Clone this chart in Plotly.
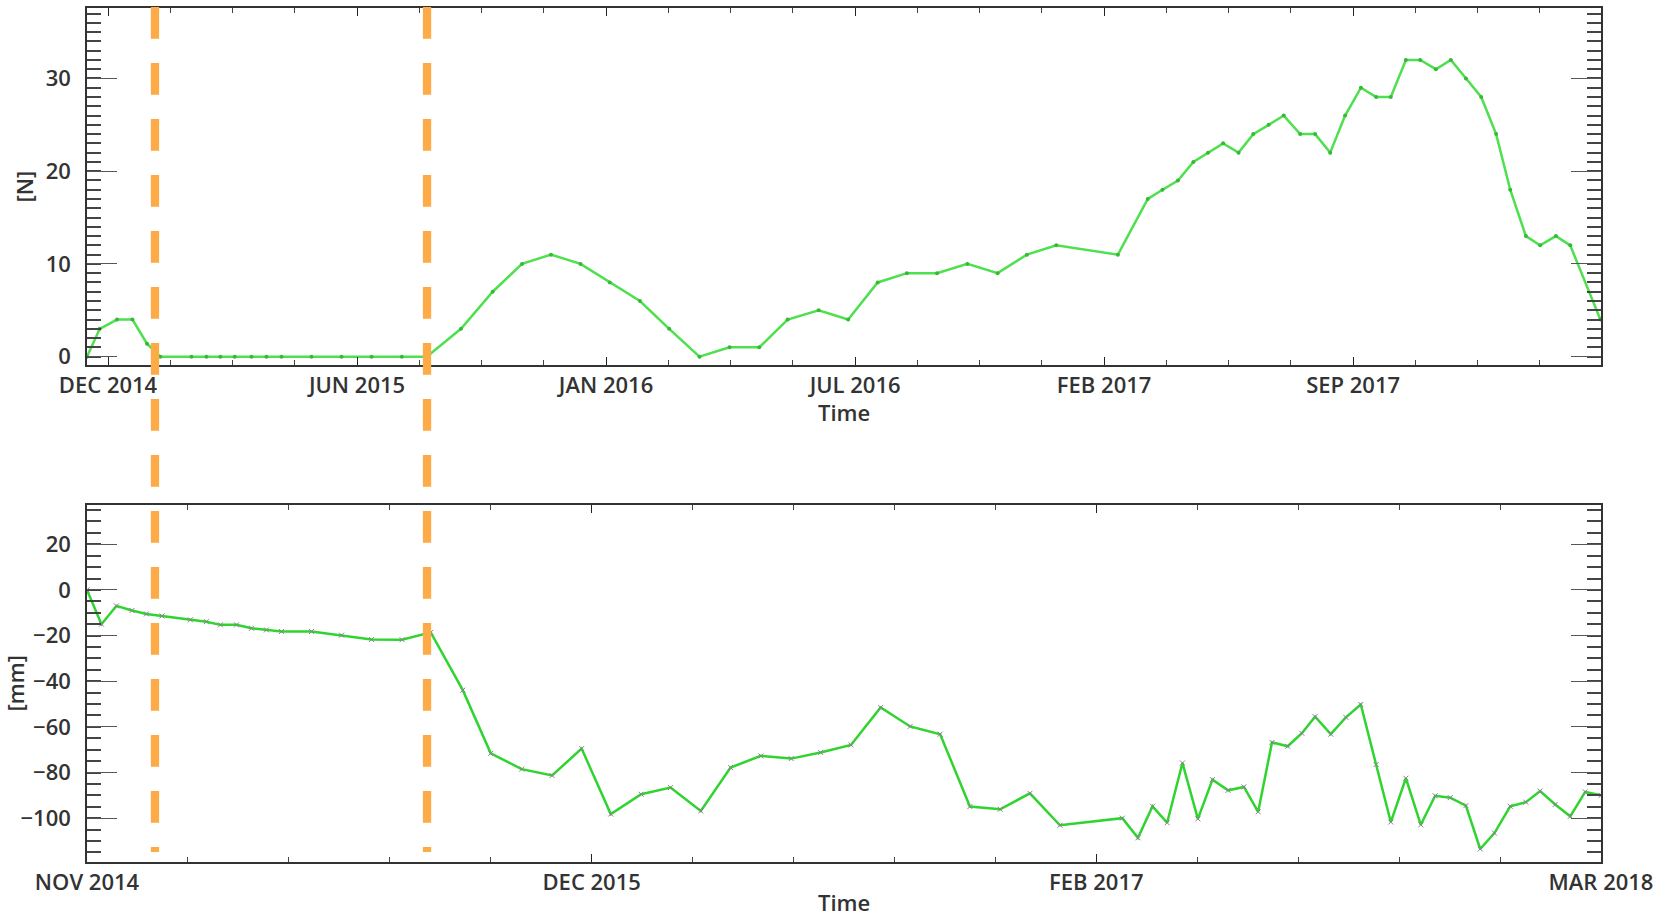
import pandas as pd
import plotly.graph_objects as go

START = pd.Timestamp("2014-11-10")
SPAN_DAYS = 1236

# upper panel: count [N], x as days since START
n_days = [0, 10.4, 24.5, 37.1, 49.0, 59.9, 85.3, 97.5, 108.9, 120.6, 134.3, 146.5, 158.8, 183.3,
          207.8, 232.3, 257.0, 277.4, 305.3, 331.2, 355.1, 378.8, 402.9, 426.8, 451.4, 475.3,
          500.0, 524.6, 548.8, 572.0, 597.3, 621.4, 645.5, 669.3, 694.0, 718.7, 743.4, 767.3,
          791.3, 841.6, 866.0, 878.0, 890.6, 903.2, 915.2, 927.5, 940.1, 952.1, 964.7, 977.0,
          990.4, 1002.6, 1014.9, 1027.1, 1040.0, 1052.4, 1064.4, 1076.7, 1088.4, 1101.2, 1113.4,
          1125.7, 1138.2, 1150.4, 1161.9, 1174.7, 1186.3, 1199.2, 1210.9, 1235.5]
n_vals = [0, 3, 4, 4, 1.4, 0, 0, 0, 0, 0, 0, 0, 0, 0, 0, 0, 0, 0, 3, 7,
          10, 11, 10, 8, 6, 3, 0, 1, 1, 4, 5, 4, 8, 9, 9, 10, 9, 11, 12, 11,
          17, 18, 19, 21, 22, 23, 22, 24, 25, 26, 24, 24, 22, 26, 29, 28, 28, 32, 32, 31,
          32, 30, 28, 24, 18, 13, 12, 13, 12, 4]

# lower panel: displacement [mm]
d_days = [0, 11.8, 24.0, 36.7, 48.5, 61.2, 84.4, 97.5, 108.9, 122.0, 134.3, 146.5, 158.8, 183.3,
          207.8, 232.3, 257.2, 280.6, 306.8, 329.6, 354.9, 379.7, 403.8, 427.6, 452.4, 476.4,
          501.1, 525.4, 550.1, 574.9, 598.9, 623.7, 647.9, 672.0, 696.5, 720.8, 745.5, 769.8,
          794.3, 845.2, 858.0, 869.9, 881.8, 894.3, 906.9, 918.8, 931.6, 944.5, 956.1, 967.4,
          980.2, 991.8, 1002.6, 1015.4, 1027.7, 1039.9, 1052.4, 1064.4, 1076.7, 1088.9, 1100.6,
          1112.9, 1125.7, 1137.4, 1149.0, 1161.9, 1174.7, 1186.3, 1198.6, 1210.9, 1223.1, 1236.0]
d_vals = [0, -15, -7, -9, -10.5, -11.4, -13.1, -13.9, -15.3, -15.3, -16.8, -17.5, -18.2, -18.2,
          -19.8, -21.7, -21.8, -18.6, -43.9, -71.6, -78.5, -81.3, -69.5, -98.2, -89.5, -86.6,
          -96.8, -77.8, -72.7, -73.9, -71.2, -67.9, -51.5, -59.8, -63.2, -94.9, -96.1, -89.1,
          -103.1, -100, -108.6, -94.8, -102, -75.8, -100.3, -83.1, -87.8, -86.3, -97.2, -66.8,
          -68.5, -62.8, -55.5, -63.2, -55.8, -50.2, -76.5, -101.7, -82.5, -102.9, -90.2, -91,
          -94.5, -113.5, -106.5, -94.8, -93, -88.1, -94, -99.2, -88.5, -90]

# vertical event markers (days since START)
event_days = [55.5, 277.6]

top_labels = ["DEC 2014", "JUN 2015", "JAN 2016", "JUL 2016", "FEB 2017", "SEP 2017"]
bot_labels = ["NOV 2014", "DEC 2015", "FEB 2017", "MAR 2018"]


def to_dates(days):
    return [START + pd.Timedelta(days=d) for d in days]


# tick layout
top_off, top_step = 17.15, 203.3
top_major = to_dates([top_off + k * top_step for k in range(len(top_labels))])
top_minor = to_dates([top_off + j * top_step / 4 for j in range(30) if top_off + j * top_step / 4 <= SPAN_DAYS])
bot_step = SPAN_DAYS / 3
bot_major = to_dates([k * bot_step for k in range(len(bot_labels))])
bot_minor = to_dates([j * bot_step / 5 for j in range(16)])
xrange = [START, START + pd.Timedelta(days=SPAN_DAYS)]

FONT = dict(family="Open Sans", size=22, color="#333333", weight=600)

fig = go.Figure()
fig.add_trace(go.Scatter(
    x=to_dates(n_days), y=n_vals, mode="lines+markers",
    line=dict(color="#4ee04e", width=2.5), marker=dict(size=4, color="#37b837"),
    xaxis="x", yaxis="y", showlegend=False,
))
fig.add_trace(go.Scatter(
    x=to_dates(d_days), y=d_vals, mode="lines+markers",
    line=dict(color="#2fd42f", width=2.5),
    marker=dict(size=5, symbol="x-thin", color="#8a8090", line=dict(width=1, color="#8a8090")),
    xaxis="x2", yaxis="y2", showlegend=False,
))

for d in event_days:
    fig.add_shape(
        type="line", xref="x", yref="paper",
        x0=START + pd.Timedelta(days=d), x1=START + pd.Timedelta(days=d),
        y0=1.0012, y1=0.0117,
        line=dict(color="#fcab46", width=8.3, dash="31.7px,24.3px"),
    )

axis_common = dict(
    showline=True, linecolor="#333333", linewidth=1.5, mirror="allticks",
    ticks="inside", showgrid=False, zeroline=False, tickfont=FONT, automargin=False,
)

fig.update_layout(
    width=1674, height=918,
    margin=dict(l=87, r=73, t=8, b=56, autoexpand=False),
    paper_bgcolor="white", plot_bgcolor="white",
    font=FONT,
    xaxis=dict(
        **axis_common, type="date", range=xrange, anchor="y", domain=[0, 1],
        tickmode="array", tickvals=top_major, ticktext=top_labels,
        ticklen=8, tickcolor="#222222", ticklabelstandoff=0,
        minor=dict(tickmode="array", tickvals=top_minor, ticks="inside", ticklen=5, tickcolor="#444444"),
    ),
    yaxis=dict(
        **axis_common, range=[-0.9, 37.6], domain=[0.582, 1], anchor="x",
        tickvals=[0, 10, 20, 30], ticklen=30, tickcolor="#555555", tickwidth=1, ticklabelstandoff=10,
        minor=dict(dtick=1, ticks="inside", ticklen=14, tickcolor="#444444", tickwidth=1.5),
    ),
    xaxis2=dict(
        **axis_common, type="date", range=xrange, anchor="y2", domain=[0, 1],
        tickmode="array", tickvals=bot_major, ticktext=bot_labels,
        ticklen=8, tickcolor="#222222", ticklabelstandoff=0,
        minor=dict(tickmode="array", tickvals=bot_minor, ticks="inside", ticklen=5, tickcolor="#444444"),
    ),
    yaxis2=dict(
        **axis_common, range=[-119.2, 37.2], domain=[0, 0.418], anchor="x2",
        tickvals=[-100, -80, -60, -40, -20, 0, 20], ticklen=30, tickcolor="#555555", tickwidth=1,
        ticklabelstandoff=10,
        minor=dict(dtick=5, ticks="inside", ticklen=14, tickcolor="#444444", tickwidth=1.5),
    ),
)

fig.add_annotation(text="Time", xref="paper", yref="paper", x=0.5, y=0.5275,
                   showarrow=False, font=FONT, yanchor="middle")
fig.add_annotation(text="Time", xref="paper", yref="paper", x=0.5, y=-0.0468,
                   showarrow=False, font=FONT, yanchor="middle")
fig.add_annotation(text="[N]", xref="paper", yref="paper", x=-0.0416, y=0.791,
                   showarrow=False, font=FONT, textangle=-90, xanchor="center", yanchor="middle")
fig.add_annotation(text="[mm]", xref="paper", yref="paper", x=-0.0482, y=0.209,
                   showarrow=False, font=FONT, textangle=-90, xanchor="center", yanchor="middle")

# page body has a default 8px margin; drop it so the figure sits at the window origin
fig.write_html("out.html", config={"displayModeBar": False},
               post_script="document.body.style.margin='0';")
